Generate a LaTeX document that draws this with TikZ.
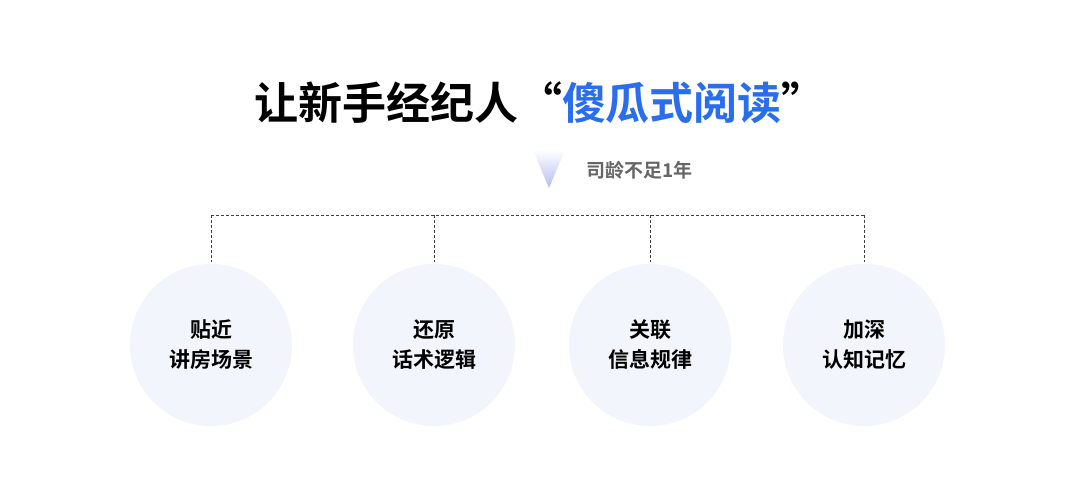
\documentclass[tikz,border=0pt]{standalone}
\usepackage{fontspec}
\newfontfamily\cjk{Noto Sans CJK SC}
\newfontfamily\cjkb{Noto Sans CJK SC Bold}
\definecolor{tblue}{HTML}{2A6EF0}
\definecolor{circ}{HTML}{F3F5FC}
\definecolor{lav}{HTML}{B4BCF0}
\begin{document}
\begin{tikzpicture}[x=1pt,y=-1pt,
  bubble/.style={circle,fill=circ,minimum size=162pt,inner sep=0pt,align=center,font=\cjkb\fontsize{21}{30}\selectfont},
  conn/.style={densely dashed,draw=black!75,line width=0.8pt}]
\useasboundingbox[fill=white] (0,0) rectangle (1080,502);
\node (title) at (540,103) {\cjkb\fontsize{44}{50}\selectfont 让新手经纪人“\textcolor{tblue}{傻瓜式阅读}”};
\shade[top color=white,bottom color=lav] (533,150) -- (565,150) -- (549,188) -- cycle;
\coordinate (arr) at (549,170);
\node[anchor=west,text=black!60] (sub) at (583,170) {\cjkb\fontsize{19}{22}\selectfont 司龄不足1年};
\foreach \i/\x/\a/\b in {1/211/贴近/讲房场景,2/434/还原/话术逻辑,3/650/关联/信息规律,4/864/加深/认知记忆}{
  \node[bubble] (c\i) at (\x,345) {\a\\\b};
  \coordinate (t\i) at (\x,215);
  \draw[conn] (t\i) -- (\x,262);
}
\draw[conn] (t1) -- (t4);
\end{tikzpicture}
\end{document}
